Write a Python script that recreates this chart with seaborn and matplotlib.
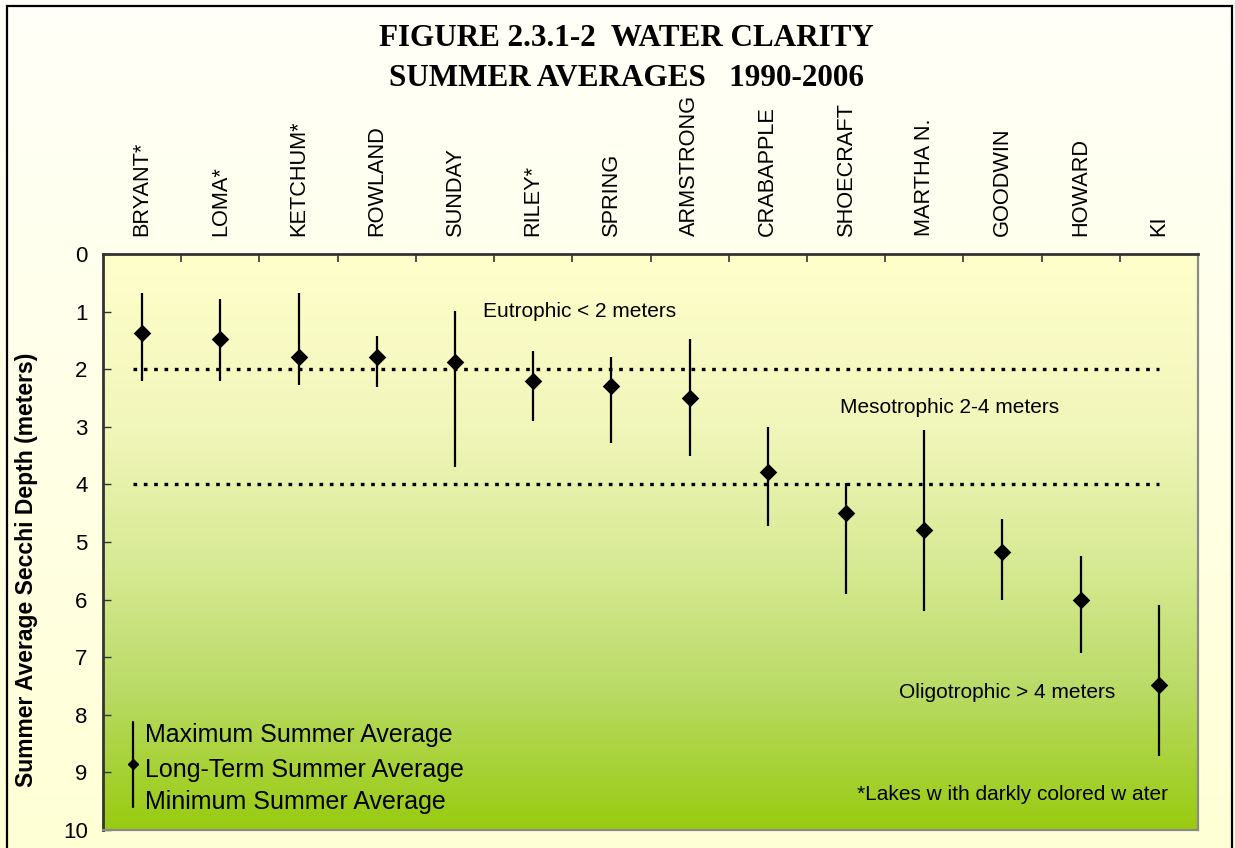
import numpy as np
import pandas as pd
import matplotlib
matplotlib.use("Agg")
import matplotlib.pyplot as plt
import seaborn as sns
from matplotlib.colors import LinearSegmentedColormap
from matplotlib.lines import Line2D
from matplotlib.patches import Rectangle

# ---- data ----
lakes = ["BRYANT*", "LOMA*", "KETCHUM*", "ROWLAND", "SUNDAY", "RILEY*", "SPRING",
         "ARMSTRONG", "CRABAPPLE", "SHOECRAFT", "MARTHA N.", "GOODWIN", "HOWARD", "KI"]
long_term_avg = [1.38, 1.48, 1.78, 1.78, 1.88, 2.2, 2.3, 2.5, 3.78, 4.5, 4.8, 5.17, 6.0, 7.48]
max_avg = [0.68, 0.78, 0.68, 1.43, 0.99, 1.68, 1.78, 1.47, 3.0, 3.98, 3.06, 4.6, 5.24, 6.09]
min_avg = [2.2, 2.2, 2.27, 2.31, 3.69, 2.9, 3.28, 3.51, 4.73, 5.9, 6.2, 6.0, 6.92, 8.71]
thresholds = [2, 4]
y_ticks = list(range(0, 11))

title_lines = ["FIGURE 2.3.1-2  WATER CLARITY", "SUMMER AVERAGES   1990-2006"]
ylabel = "Summer Average Secchi Depth (meters)"
legend_lines = ["Maximum Summer Average", "Long-Term Summer Average", "Minimum Summer Average"]

df = pd.DataFrame({"lake": lakes, "pos": np.arange(len(lakes)),
                   "mean": long_term_avg, "max": max_avg, "min": min_avg})

# ---- style ----
sns.set_theme(style="white")
plt.rcParams["font.family"] = ["Liberation Sans", "DejaVu Sans"]
plt.rcParams["text.color"] = "black"
plt.rcParams["axes.labelcolor"] = "black"
plt.rcParams["xtick.color"] = "black"
plt.rcParams["ytick.color"] = "black"

W, H = 1235, 848
fig = plt.figure(figsize=(W / 100, H / 100), dpi=100)

# figure background gradient
bg = fig.add_axes([0, 0, 1, 1], zorder=-10)
bg_cmap = LinearSegmentedColormap.from_list("bg", ["#FFFFF8", "#FFFFD6"])
bg.imshow(np.linspace(0, 1, 256).reshape(-1, 1), aspect="auto", cmap=bg_cmap,
          extent=[0, 1, 0, 1], origin="upper")
bg.set_axis_off()
fig.patches.append(Rectangle((7 / W, -0.05), (1232 - 7) / W, 1.05 - 6 / H,
                             transform=fig.transFigure, fill=False,
                             edgecolor="black", linewidth=1.6, zorder=5))

left, right = 103 / W, 1198 / W
bottom, top = (H - 830) / H, (H - 254) / H
ax = fig.add_axes([left, bottom, right - left, top - bottom])
ax.set_facecolor("none")

# plot-area gradient
pa_cmap = LinearSegmentedColormap.from_list(
    "pa", [(0.0, "#FFFFCC"), (0.3, "#F1F6BA"), (0.55, "#D6E992"),
           (0.75, "#BADB68"), (1.0, "#99CB10")])
ax.imshow(np.linspace(0, 1, 256).reshape(-1, 1), aspect="auto", cmap=pa_cmap,
          extent=[0, 1, 0, 1], origin="upper", transform=ax.transAxes, zorder=0)

# threshold dotted lines
for t in thresholds:
    ax.hlines(t, -0.12, 13.0, colors="black", linestyles=(0, (1.1, 2.0)),
              linewidth=2.4, zorder=2)

# range lines and means
ax.vlines(df["pos"], df["max"], df["min"], colors="black", linewidth=1.6, zorder=3)
sns.scatterplot(data=df, x="pos", y="mean", marker="D", color="black", s=80,
                edgecolor="black", linewidth=0, ax=ax, zorder=4, legend=False)

ax.set_xlim(-0.5, len(lakes) - 0.5)
ax.set_ylim(10, 0)
ax.set_yticks(y_ticks)
ax.set_yticklabels([str(v) for v in y_ticks], fontsize=16)
ax.tick_params(axis="y", direction="in", length=6, width=1, color="#333333",
               pad=11, left=True)

ax.xaxis.tick_top()
ax.set_xticks(np.arange(0.5, len(lakes) - 0.5, 1))
ax.set_xticklabels([])
ax.set_xticks(np.arange(len(lakes)), minor=True)
ax.set_xticklabels(lakes, minor=True, rotation=90, fontsize=15.7)
ax.tick_params(axis="x", which="major", direction="in", length=6, width=1.2,
               color="#333333", top=True, bottom=False)
ax.tick_params(axis="x", which="minor", length=0, pad=13, top=True, bottom=False,
               labeltop=True, labelbottom=False)
ax.set_xlabel("")

ax.set_ylabel(ylabel, fontsize=16.5, fontweight="bold")
ax.yaxis.set_label_coords(-0.059, 0.452)

for side in ["top", "left"]:
    ax.spines[side].set_color("#333333")
    ax.spines[side].set_linewidth(2)
for side in ["right", "bottom"]:
    ax.spines[side].set_color("#8a8a8a")
    ax.spines[side].set_linewidth(1.6)

# annotations
ax.text(4.36, 0.99, "Eutrophic < 2 meters", fontsize=15, ha="left", va="center")
ax.text(8.92, 2.67, "Mesotrophic 2-4 meters", fontsize=15, ha="left", va="center")
ax.text(9.68, 7.62, "Oligotrophic > 4 meters", fontsize=15, ha="left", va="center")
ax.text(9.14, 9.39, "*Lakes w ith darkly colored w ater", fontsize=15,
        ha="left", va="center")

# custom legend key (axes fraction)
kx = (133 - 103) / (1198 - 103)
ax.add_line(Line2D([kx, kx], [1 - 8.13 / 10, 1 - 9.6 / 10], transform=ax.transAxes,
                   color="black", linewidth=1.6, zorder=5))
ax.add_line(Line2D([kx], [1 - 8.85 / 10], transform=ax.transAxes, marker="D",
                   markersize=5.5, color="black", zorder=6))
tx = (145 - 103) / (1198 - 103)
for txt, yy in zip(legend_lines, [8.35, 8.96, 9.51]):
    ax.text(tx, 1 - yy / 10, txt, transform=ax.transAxes, fontsize=18,
            ha="left", va="center")

# title
for line, ypx in zip(title_lines, [38, 78]):
    fig.text(0.507, 1 - ypx / H, line, ha="center", va="center",
             fontsize=22.4, fontweight="bold", family=["Liberation Serif", "DejaVu Serif"])

fig.savefig("out.png", dpi=100)
